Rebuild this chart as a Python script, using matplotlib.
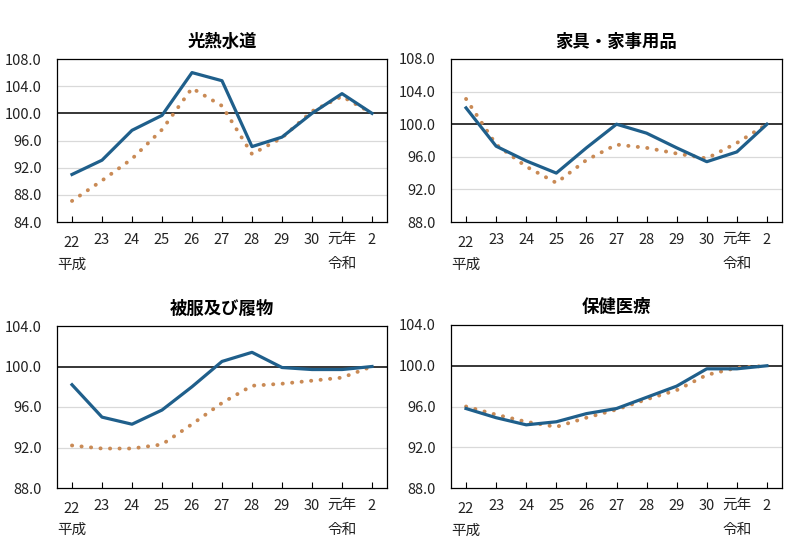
import matplotlib
matplotlib.use("Agg")
import matplotlib.pyplot as plt
from matplotlib.transforms import ScaledTranslation

plt.rcParams['font.family'] = ['Noto Sans CJK JP', 'DejaVu Sans']

years = ['22', '23', '24', '25', '26', '27', '28', '29', '30', '元年', '2']
era_labels = ['平成', '令和']

titles = ['光熱水道', '家具・家事用品', '被服及び履物', '保健医療']

solid_utilities = [91.0, 93.1, 97.5, 99.7, 106.0, 104.8, 95.1, 96.5, 100.0, 102.9, 100.0]
dotted_utilities = [87.1, 90.1, 93.3, 97.6, 103.7, 101.1, 94.0, 96.4, 100.3, 102.5, 100.0]

solid_furniture = [102.0, 97.3, 95.5, 94.0, 97.1, 100.0, 98.9, 97.1, 95.4, 96.6, 100.0]
dotted_furniture = [103.1, 97.5, 94.8, 92.8, 95.6, 97.5, 97.1, 96.4, 95.8, 97.7, 100.0]

solid_clothing = [98.2, 95.0, 94.3, 95.7, 98.0, 100.5, 101.4, 99.9, 99.7, 99.7, 100.0]
dotted_clothing = [92.2, 91.9, 91.9, 92.3, 94.3, 96.4, 98.1, 98.3, 98.6, 98.9, 100.0]

solid_medical = [95.8, 94.9, 94.2, 94.5, 95.3, 95.8, 96.9, 98.0, 99.7, 99.7, 100.0]
dotted_medical = [96.0, 95.2, 94.5, 94.0, 94.9, 95.7, 96.7, 97.6, 99.1, 99.8, 100.0]

yticks_a = [84.0, 88.0, 92.0, 96.0, 100.0, 104.0, 108.0]
yticks_b = [88.0, 92.0, 96.0, 100.0, 104.0, 108.0]
yticks_c = [88.0, 92.0, 96.0, 100.0, 104.0]

panels = [
    (titles[0], solid_utilities, dotted_utilities, yticks_a, [57, 59, 387, 222]),
    (titles[1], solid_furniture, dotted_furniture, yticks_b, [451, 59, 782, 222]),
    (titles[2], solid_clothing, dotted_clothing, yticks_c, [57, 326, 387, 488]),
    (titles[3], solid_medical, dotted_medical, yticks_c, [451, 325, 782, 488]),
]

W, H = 800, 548
fig = plt.figure(figsize=(W / 100, H / 100), dpi=100)

blue = '#1f5f8b'
orange = '#c98a55'

for title, solid, dotted, yt, (l, t, r, b) in panels:
    ax = fig.add_axes([l / W, 1 - b / H, (r - l) / W, (b - t) / H])
    x = list(range(len(years)))
    for v in yt:
        if v == 100.0:
            ax.axhline(v, color='black', lw=1.1, zorder=2)
        elif v not in (yt[0], yt[-1]):
            ax.axhline(v, color='#d9d9d9', lw=0.9, zorder=1)
    ax.plot(x, dotted, color=orange, lw=2.8, linestyle=(0, (0.05, 2.4)),
            dash_capstyle='round', zorder=3)
    ax.plot(x, solid, color=blue, lw=2.3, zorder=4)
    ax.set_xlim(-0.5, len(years) - 0.5)
    ax.set_ylim(yt[0], yt[-1])
    ax.set_yticks(yt)
    ax.set_yticklabels([f'{v:.1f}' for v in yt], fontsize=10.5, color='#222222')
    ax.tick_params(axis='y', length=0, pad=11)
    ax.set_xticks(x)
    ax.set_xticklabels(years, fontsize=10.5, color='#222222')
    ax.tick_params(axis='x', direction='in', length=4, width=0.8, pad=8)
    lbl = ax.get_xticklabels()[0]
    lbl.set_transform(lbl.get_transform() + ScaledTranslation(0, -3 / 100, fig.dpi_scale_trans))
    for s in ax.spines.values():
        s.set_color('black')
        s.set_linewidth(0.9)
    ax.set_title(title, fontsize=12.5, fontweight='bold', pad=9)
    ax.text(0, -0.26, era_labels[0], transform=ax.get_xaxis_transform(),
            ha='center', va='center', fontsize=10.5, color='#222222')
    ax.text(9, -0.26, era_labels[1], transform=ax.get_xaxis_transform(),
            ha='center', va='center', fontsize=10.5, color='#222222')

fig.savefig('out.png', dpi=100, facecolor='white')
